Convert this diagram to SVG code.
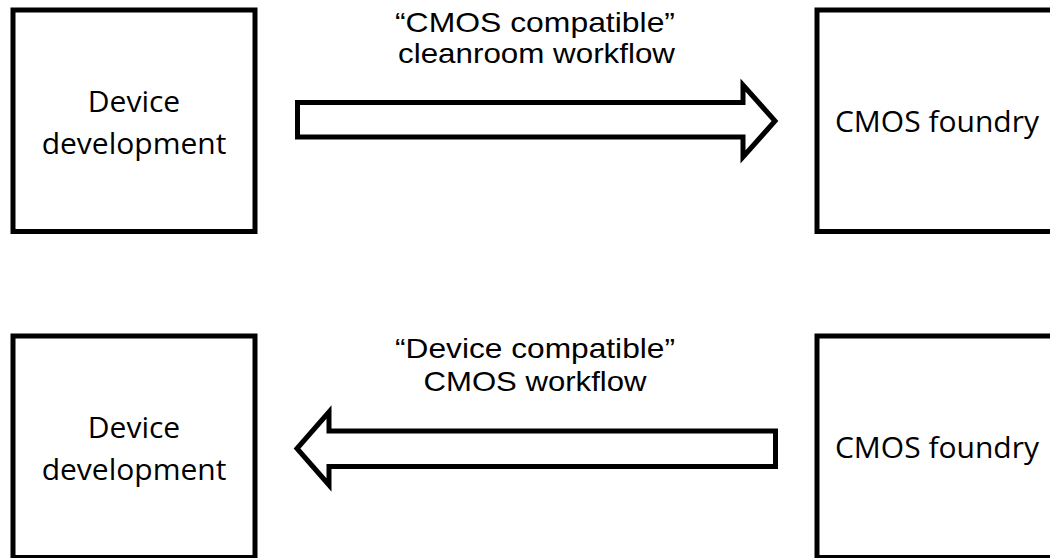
<svg xmlns="http://www.w3.org/2000/svg" width="1050" height="558" viewBox="0 0 1050 558">
<style>
.box{fill:#fff;stroke:#000;stroke-width:5}
.arrow{fill:#fff;stroke:#000;stroke-width:5;stroke-miterlimit:10}
.node{font-family:"Open Sans","Noto Sans",sans-serif;font-size:30px;fill:#000;text-anchor:middle}
.lbl{font-family:"Liberation Sans",Arial,sans-serif;font-size:28px;fill:#000;text-anchor:middle}
</style>
<rect width="1050" height="558" fill="#fff"/>
<g id="dev-top">
<rect class="box" x="13" y="10" width="242" height="221.5"/>
<text class="node" x="134" y="112">Device</text>
<text class="node" x="134" y="153.5">development</text>
</g>
<g id="cmos-top">
<rect class="box" x="817" y="10" width="242" height="221.5"/>
<text class="node" x="937" y="131.5">CMOS foundry</text>
</g>
<g id="dev-bottom">
<rect class="box" x="13" y="336" width="242" height="221.5"/>
<text class="node" x="134" y="438">Device</text>
<text class="node" x="134" y="479.5">development</text>
</g>
<g id="cmos-bottom">
<rect class="box" x="817" y="336" width="242" height="221.5"/>
<text class="node" x="937" y="457.5">CMOS foundry</text>
</g>
<g id="connectors">
<polygon class="arrow" points="297.5,102.5 743,102.5 743,85 775,121 743,157 743,137 297.5,137"/>
<polygon class="arrow" points="775.5,431 329,431 329,412 297,448.5 329,485 329,466.5 775.5,466.5"/>
<text class="lbl" x="535" y="31.5" textLength="280" lengthAdjust="spacingAndGlyphs">“CMOS compatible”</text>
<text class="lbl" x="536.5" y="63" textLength="277" lengthAdjust="spacingAndGlyphs">cleanroom workflow</text>
<text class="lbl" x="535" y="358" textLength="280" lengthAdjust="spacingAndGlyphs">“Device compatible”</text>
<text class="lbl" x="535" y="391" textLength="223" lengthAdjust="spacingAndGlyphs">CMOS workflow</text>
</g>
</svg>
